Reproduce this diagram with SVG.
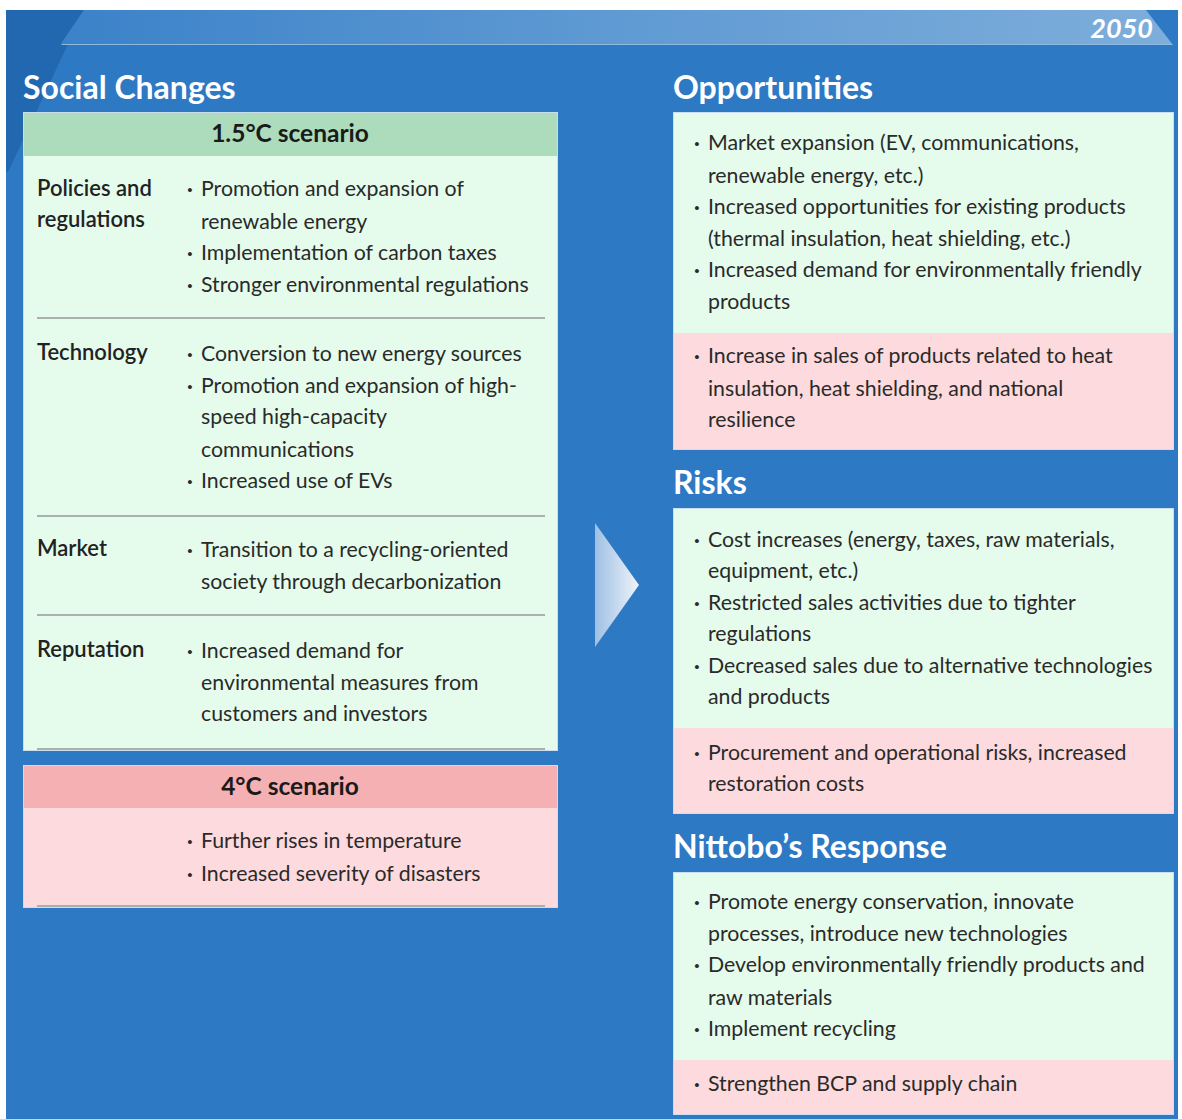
<svg xmlns="http://www.w3.org/2000/svg" width="1182" height="1119" viewBox="0 0 1182 1119">
  <defs>
    <linearGradient id="bannerGrad" x1="0" y1="0" x2="1" y2="0">
      <stop offset="0" stop-color="#3b82c9"/>
      <stop offset="0.5" stop-color="#5f9ad3"/>
      <stop offset="1" stop-color="#7eaedb"/>
    </linearGradient>
    <linearGradient id="arrowGrad" x1="0" y1="0" x2="1" y2="0">
      <stop offset="0" stop-color="#9fc0e4"/>
      <stop offset="1" stop-color="#eef3f9"/>
    </linearGradient>
    <style>
      .title { font-family: Lato, "Liberation Sans", sans-serif; font-weight: 700; font-size: 32px; fill: #ffffff; }
      .head { font-family: Lato, "Liberation Sans", sans-serif; font-weight: 700; font-size: 24.5px; fill: #1a1a1a; text-anchor: middle; }
      .lbl { font-family: Lato, "Liberation Sans", sans-serif; font-weight: 600; font-size: 22px; fill: #222222; }
      .txt { font-family: Lato, "Liberation Sans", sans-serif; font-size: 21.3px; fill: #2a2a2a; }
      .dot { font-family: Lato, "Liberation Sans", sans-serif; font-weight: 700; font-size: 21px; fill: #2a2a2a; }
      .green { fill: #e5fcec; stroke: #c9dff0; stroke-width: 1; }
      .pink { fill: #fddadd; stroke: #c9dff0; stroke-width: 1; }
      .sep { stroke: #a9b0ad; stroke-width: 2; }
    </style>
  </defs>

  <!-- page background -->
  <rect x="0" y="0" width="1182" height="1119" fill="#ffffff"/>
  <rect x="6" y="10" width="1172" height="1109" fill="#2e79c4"/>
  <!-- darker slanted corner at top left -->
  <polygon points="6,10 84,10 8,172 6,172" fill="#2268b0"/>

  <!-- year banner -->
  <polygon points="84,10 1146,10 1173,45 60,45" fill="url(#bannerGrad)"/>
  <line x1="62" y1="44.5" x2="1172" y2="44.5" stroke="#8fb8e0" stroke-width="1"/>
  <text x="1153" y="38" font-family="Lato, 'Liberation Sans', sans-serif" font-size="27" font-weight="700" font-style="italic" fill="#ffffff" text-anchor="end">2050</text>

  <!-- Social Changes column -->
  <g id="social-changes">
    <text class="title" x="23" y="99">Social Changes</text>

    <g id="scenario-1-5">
      <rect class="green" x="23.5" y="112.5" width="534" height="638"/>
      <rect x="24" y="113" width="533" height="43" fill="#acdcbc"/>
      <text class="head" x="290" y="142">1.5°C scenario</text>

      <g id="policies">
        <text class="lbl" x="37" y="196">Policies and</text>
        <text class="lbl" x="37" y="227">regulations</text>
        <text class="dot" x="187" y="196">·</text>
        <text class="txt" x="201" y="196">Promotion and expansion of</text>
        <text class="txt" x="201" y="229">renewable energy</text>
        <text class="dot" x="187" y="260">·</text>
        <text class="txt" x="201" y="260">Implementation of carbon taxes</text>
        <text class="dot" x="187" y="292">·</text>
        <text class="txt" x="201" y="292">Stronger environmental regulations</text>
      </g>
      <line class="sep" x1="37" y1="318" x2="545" y2="318"/>

      <g id="technology">
        <text class="lbl" x="37" y="360">Technology</text>
        <text class="dot" x="187" y="361">·</text>
        <text class="txt" x="201" y="361">Conversion to new energy sources</text>
        <text class="dot" x="187" y="393">·</text>
        <text class="txt" x="201" y="393">Promotion and expansion of high-</text>
        <text class="txt" x="201" y="424">speed high-capacity</text>
        <text class="txt" x="201" y="457">communications</text>
        <text class="dot" x="187" y="488">·</text>
        <text class="txt" x="201" y="488">Increased use of EVs</text>
      </g>
      <line class="sep" x1="37" y1="516" x2="545" y2="516"/>

      <g id="market">
        <text class="lbl" x="37" y="556">Market</text>
        <text class="dot" x="187" y="557">·</text>
        <text class="txt" x="201" y="557">Transition to a recycling-oriented</text>
        <text class="txt" x="201" y="589">society through decarbonization</text>
      </g>
      <line class="sep" x1="37" y1="615" x2="545" y2="615"/>

      <g id="reputation">
        <text class="lbl" x="37" y="657">Reputation</text>
        <text class="dot" x="187" y="658">·</text>
        <text class="txt" x="201" y="658">Increased demand for</text>
        <text class="txt" x="201" y="690">environmental measures from</text>
        <text class="txt" x="201" y="721">customers and investors</text>
      </g>
      <line class="sep" x1="37" y1="749" x2="545" y2="749"/>
    </g>

    <g id="scenario-4">
      <rect class="pink" x="23.5" y="765.5" width="534" height="142"/>
      <rect x="24" y="766" width="533" height="42" fill="#f5b0b4"/>
      <text class="head" x="290" y="795">4°C scenario</text>
      <text class="dot" x="187" y="848">·</text>
      <text class="txt" x="201" y="848">Further rises in temperature</text>
      <text class="dot" x="187" y="881">·</text>
      <text class="txt" x="201" y="881">Increased severity of disasters</text>
      <line class="sep" x1="37" y1="906" x2="545" y2="906"/>
    </g>
  </g>

  <!-- transition arrow -->
  <g id="connectors">
    <polygon points="595,523 639,585 595,647" fill="url(#arrowGrad)"/>
  </g>

  <!-- Opportunities -->
  <g id="opportunities">
    <text class="title" x="673" y="99">Opportunities</text>
    <rect class="green" x="673.5" y="112.5" width="500" height="337"/>
    <rect x="674" y="333" width="499" height="116" fill="#fddadd"/>
    <text class="dot" x="694" y="150">·</text>
    <text class="txt" x="708" y="150">Market expansion (EV, communications,</text>
    <text class="txt" x="708" y="183">renewable energy, etc.)</text>
    <text class="dot" x="694" y="214">·</text>
    <text class="txt" x="708" y="214">Increased opportunities for existing products</text>
    <text class="txt" x="708" y="246">(thermal insulation, heat shielding, etc.)</text>
    <text class="dot" x="694" y="277">·</text>
    <text class="txt" x="708" y="277">Increased demand for environmentally friendly</text>
    <text class="txt" x="708" y="309">products</text>
    <text class="dot" x="694" y="363">·</text>
    <text class="txt" x="708" y="363">Increase in sales of products related to heat</text>
    <text class="txt" x="708" y="396">insulation, heat shielding, and national</text>
    <text class="txt" x="708" y="427">resilience</text>
  </g>

  <!-- Risks -->
  <g id="risks">
    <text class="title" x="673" y="494">Risks</text>
    <rect class="green" x="673.5" y="508.5" width="500" height="305"/>
    <rect x="674" y="728" width="499" height="85" fill="#fddadd"/>
    <text class="dot" x="694" y="547">·</text>
    <text class="txt" x="708" y="547">Cost increases (energy, taxes, raw materials,</text>
    <text class="txt" x="708" y="578">equipment, etc.)</text>
    <text class="dot" x="694" y="610">·</text>
    <text class="txt" x="708" y="610">Restricted sales activities due to tighter</text>
    <text class="txt" x="708" y="641">regulations</text>
    <text class="dot" x="694" y="673">·</text>
    <text class="txt" x="708" y="673">Decreased sales due to alternative technologies</text>
    <text class="txt" x="708" y="704">and products</text>
    <text class="dot" x="694" y="760">·</text>
    <text class="txt" x="708" y="760">Procurement and operational risks, increased</text>
    <text class="txt" x="708" y="791">restoration costs</text>
  </g>

  <!-- Nittobo's Response -->
  <g id="response">
    <text class="title" x="673" y="858">Nittobo’s Response</text>
    <rect class="green" x="673.5" y="872.5" width="500" height="242"/>
    <rect x="674" y="1060" width="499" height="54" fill="#fddadd"/>
    <text class="dot" x="694" y="909">·</text>
    <text class="txt" x="708" y="909">Promote energy conservation, innovate</text>
    <text class="txt" x="708" y="941">processes, introduce new technologies</text>
    <text class="dot" x="694" y="972">·</text>
    <text class="txt" x="708" y="972">Develop environmentally friendly products and</text>
    <text class="txt" x="708" y="1005">raw materials</text>
    <text class="dot" x="694" y="1036">·</text>
    <text class="txt" x="708" y="1036">Implement recycling</text>
    <text class="dot" x="694" y="1091">·</text>
    <text class="txt" x="708" y="1091">Strengthen BCP and supply chain</text>
  </g>
</svg>
